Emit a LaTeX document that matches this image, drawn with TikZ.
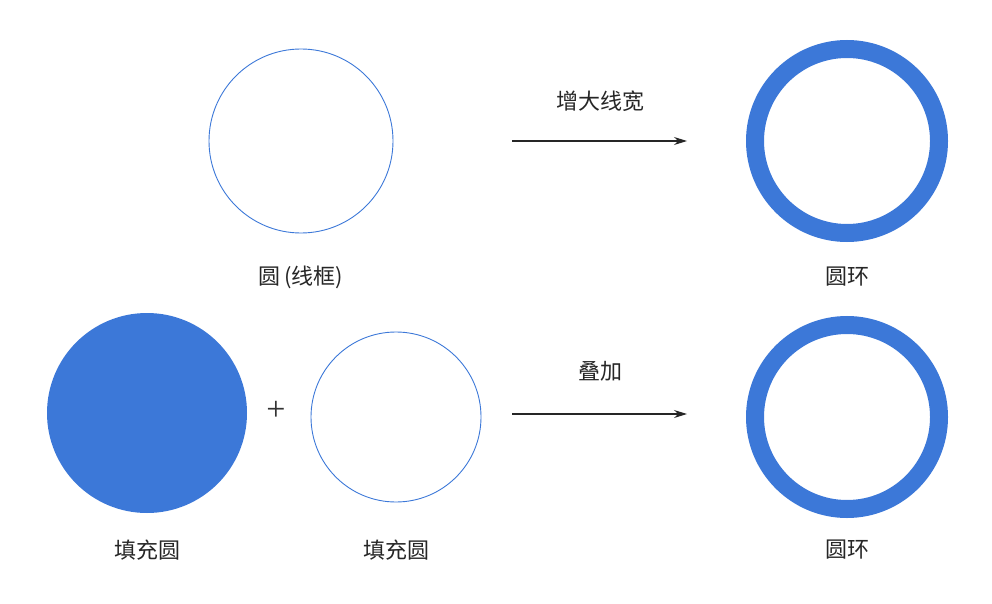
\documentclass[tikz,border=0pt]{standalone}
\usepackage{fontspec}
\newfontfamily\cjk{Noto Sans CJK SC}
\setmainfont{Liberation Serif}
\usetikzlibrary{arrows.meta}
\definecolor{cblue}{HTML}{3C78D8}
\tikzset{
  wire/.style={draw=cblue, line width=0.9pt},
  ringst/.style={draw=cblue, line width=18pt},
  fillc/.style={fill=cblue},
  lbl/.style={font=\cjk\fontsize{22}{26}\selectfont, text=black!85, inner sep=0pt},
  conn/.style={draw=black!85, line width=1.2pt, -{Stealth[length=13pt,width=8pt]}}
}
\begin{document}
\begin{tikzpicture}[x=1pt,y=-1pt]
\useasboundingbox (0,0) rectangle (992,604);
% top row
\draw[wire] (301,141) circle[radius=92];
\draw[ringst] (847,141) circle[radius=92];
\coordinate (a1s) at (512,141);
\coordinate (a1e) at (687,141);
\draw[conn] (a1s) -- (a1e);
\node[lbl] (t1) at (600,101) {增大线宽};
\node[lbl] (l1) at (301,277) {圆\,(线框)};
\node[lbl] (l2) at (847,277) {圆环};
% bottom row
\fill[fillc] (147,413) circle[radius=100];
\node[inner sep=0pt, text=black!80, font=\fontsize{34}{38}\selectfont] (plus) at (276,411) {+};
\draw[wire] (396,417) circle[radius=85];
\draw[ringst] (847,417) circle[radius=92];
\coordinate (a2s) at (512,414);
\coordinate (a2e) at (687,414);
\draw[conn] (a2s) -- (a2e);
\node[lbl] (t2) at (600,371) {叠加};
\node[lbl] (l3) at (147,550) {填充圆};
\node[lbl] (l4) at (396,550) {填充圆};
\node[lbl] (l5) at (847,550) {圆环};
\end{tikzpicture}
\end{document}
